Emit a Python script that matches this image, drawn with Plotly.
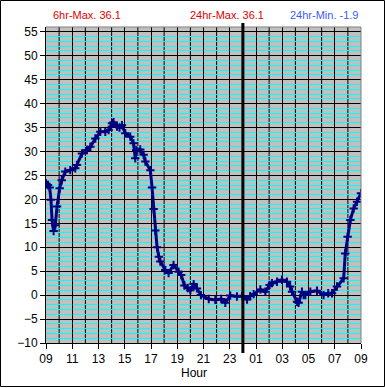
import plotly.graph_objects as go

# hours since 09:00 of day 1 (9 .. 33), temperature values
hours = [9.00, 9.15, 9.28, 9.38, 9.46, 9.58, 9.71, 9.84, 10.04, 10.2, 10.47, 10.85,
         11.23, 11.36, 11.74, 12.12, 12.38, 12.76, 13.14, 13.52, 13.77, 14.03, 14.15,
         14.41, 14.6, 14.79, 15.04, 15.42, 15.67, 15.8, 15.88, 16.18, 16.44, 16.57,
         16.95, 17.08, 17.2, 17.33, 17.46, 17.6, 17.71, 18.09, 18.34, 18.72, 19.1,
         19.3, 19.55, 19.8, 20.0, 20.25, 20.5, 20.8, 21.4, 21.9, 22.35, 22.66, 23.04,
         23.55, 23.95, 24.32, 24.56, 24.82, 25.33, 25.71, 26.04, 26.22, 26.6, 26.98,
         27.36, 27.6, 27.75, 28.13, 28.25, 28.5, 28.63, 28.76, 29.14, 29.65, 30.15,
         30.5, 30.79, 31.17, 31.68, 31.8, 31.98, 32.19, 32.44, 32.7, 33.0]
temps = [23.3, 23.0, 22.5, 19.9, 15.7, 13.4, 14.6, 18.5, 22.3, 24.0, 25.8, 26.1,
         26.5, 27.2, 29.6, 30.3, 31.0, 32.7, 34.1, 34.1, 34.5, 35.9, 36.1,
         35.2, 35.0, 35.5, 33.8, 33.1, 31.7, 28.6, 30.3, 30.4, 29.3, 27.9,
         26.1, 22.5, 18.0, 13.5, 10.0, 8.0, 7.0, 5.25, 4.6, 6.3, 4.9,
         4.2, 2.0, 1.5, 1.0, 2.3, 1.4, 0.0, -0.8, -1.0, -0.8, -1.6, -0.1,
         -0.3, -0.2, -0.9, -0.2, 0.2, 1.2, 0.7, 2.1, 2.5, 2.8, 3.2,
         2.8, 1.8, 0.7, -1.4, -1.6, 0.7, 0.0, 0.0, 0.7, 0.9, 0.0,
         0.4, 0.4, 1.8, 3.5, 8.7, 12.2, 15.7, 18.1, 19.5, 21.3]

tick_hours = [9, 11, 13, 15, 17, 19, 21, 23, 25, 27, 29, 31, 33]
tick_labels = ["09", "11", "13", "15", "17", "19", "21", "23", "01", "03", "05", "07", "09"]
odd_grid_hours = [10, 12, 14, 16, 18, 20, 22, 24, 26, 28, 30, 32]
y_ticks = list(range(-10, 56, 5))

header_texts = ["6hr-Max. 36.1", "24hr-Max. 36.1", "24hr-Min. -1.9"]
header_colors = ["#E00000", "#E00000", "#3A5BFF"]
header_x_px = [87, 227, 324]

W, H = 385, 388
L, R, T, B = 46, 361, 27, 343
pw, ph = R - L, B - T


def px_x(x):
    return (x - L) / pw


def px_y(y):
    return (B - y) / ph


FONT = "Liberation Sans, Arial, sans-serif"

fig = go.Figure()
fig.add_trace(go.Scatter(
    x=hours, y=temps, mode="lines+markers",
    line=dict(color="#000080", width=3),
    marker=dict(symbol="cross-thin", size=6, line=dict(color="#000080", width=2)),
    showlegend=False, hoverinfo="skip",
))

fig.update_layout(
    width=W, height=H,
    margin=dict(l=L, r=W - R, t=T, b=H - B, pad=0, autoexpand=False),
    paper_bgcolor="white",
    plot_bgcolor="#C0C0C0",
    font=dict(family=FONT, size=12, color="black"),
    xaxis=dict(
        range=[9, 33], tickmode="array", tickvals=tick_hours, ticktext=tick_labels,
        ticks="outside", ticklen=5, tickcolor="black", tickwidth=1,
        showgrid=True, gridcolor="black", gridwidth=1,
        showline=True, linecolor="black", linewidth=1, mirror=False,
        zeroline=False, tickfont=dict(size=12, family=FONT),
    ),
    yaxis=dict(
        range=[-10, 56], tickmode="array", tickvals=y_ticks,
        ticks="outside", ticklen=5, tickcolor="black", tickwidth=1,
        showgrid=True, gridcolor="black", gridwidth=1,
        minor=dict(dtick=1, tick0=0, showgrid=True, gridcolor="#00FFFF", gridwidth=1, ticks=""),
        showline=True, linecolor="black", linewidth=1,
        zeroline=False, tickfont=dict(size=12, family=FONT),
    ),
)

# hourly vertical grid lines between labelled hours (above minor cyan grid)
for hh in odd_grid_hours:
    if hh == 24:
        continue
    fig.add_shape(type="line", xref="x", yref="paper", x0=hh, x1=hh, y0=0, y1=1,
                  line=dict(color="black", width=1), layer="below")

# right / top plot border in grey
fig.add_shape(type="line", xref="paper", yref="paper", x0=1, x1=1, y0=0, y1=1,
              line=dict(color="#808080", width=1))
fig.add_shape(type="line", xref="paper", yref="paper", x0=0, x1=1, y0=1, y1=1,
              line=dict(color="#808080", width=1))

# midnight marker line
fig.add_shape(type="line", xref="x", yref="paper", x0=24, x1=24,
              y0=px_y(353), y1=px_y(23), line=dict(color="black", width=3))

# outer frame
fig.add_shape(type="rect", xref="paper", yref="paper",
              x0=px_x(0.5), x1=px_x(384.5), y0=px_y(386.5), y1=px_y(0.5),
              line=dict(color="black", width=1), fillcolor="rgba(0,0,0,0)", layer="above")

for txt, col, xp in zip(header_texts, header_colors, header_x_px):
    fig.add_annotation(text=txt, xref="paper", yref="paper", x=px_x(xp), y=px_y(15),
                       showarrow=False, font=dict(color=col, size=11, family=FONT),
                       xanchor="center", yanchor="middle")

fig.add_annotation(text="Hour", xref="paper", yref="paper", x=px_x(194), y=px_y(373),
                   showarrow=False, font=dict(color="black", size=12, family=FONT),
                   xanchor="center", yanchor="middle")

fig.write_html("out.html", config={"displayModeBar": False},
               post_script="document.body.style.margin='0';document.body.style.overflow='hidden';")
